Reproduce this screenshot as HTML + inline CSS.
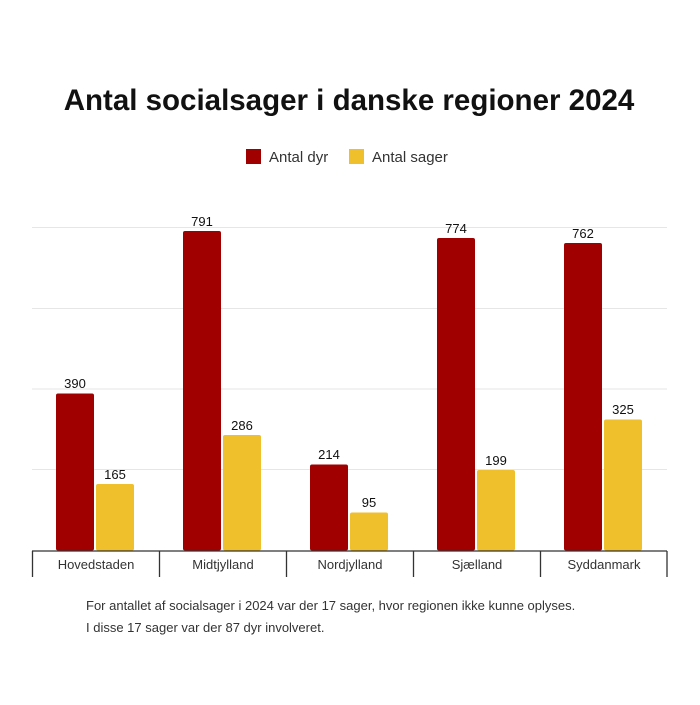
<!DOCTYPE html>
<html><head><style>
body{margin:0;background:#fff;}
svg text{font-family:"Liberation Sans",sans-serif;}
</style></head><body>
<svg width="700" height="700" xmlns="http://www.w3.org/2000/svg">
<rect width="700" height="700" fill="#fff"/>
<text x="349" y="110" text-anchor="middle" font-size="29.5" font-weight="bold" fill="#111">Antal socialsager i danske regioner 2024</text>
<rect x="246" y="149" width="15" height="15" fill="#a10000"/>
<text x="269" y="162" font-size="15" fill="#333">Antal dyr</text>
<rect x="349" y="149" width="15" height="15" fill="#f0bf2c"/>
<text x="372" y="162" font-size="15" fill="#333">Antal sager</text>
<g stroke="#e6e6e6" stroke-width="1">
<line x1="32" x2="667" y1="469.5" y2="469.5"/>
<line x1="32" x2="667" y1="389" y2="389"/>
<line x1="32" x2="667" y1="308.5" y2="308.5"/>
<line x1="32" x2="667" y1="227.5" y2="227.5"/>
</g>
<g font-size="13" fill="#111" text-anchor="middle">
<rect x="56" y="393.5" width="38" height="157" fill="#a10000" rx="2"/><text x="75" y="388">390</text>
<rect x="96" y="484" width="38" height="66.5" fill="#f0bf2c" rx="2"/><text x="115" y="479">165</text>
<rect x="183" y="231" width="38" height="319.5" fill="#a10000" rx="2"/><text x="202" y="226">791</text>
<rect x="223" y="435" width="38" height="115.5" fill="#f0bf2c" rx="2"/><text x="242" y="430">286</text>
<rect x="310" y="464.5" width="38" height="86" fill="#a10000" rx="2"/><text x="329" y="459">214</text>
<rect x="350" y="512.5" width="38" height="38" fill="#f0bf2c" rx="2"/><text x="369" y="507">95</text>
<rect x="437" y="238" width="38" height="312.5" fill="#a10000" rx="2"/><text x="456" y="233">774</text>
<rect x="477" y="470" width="38" height="80.5" fill="#f0bf2c" rx="2"/><text x="496" y="465">199</text>
<rect x="564" y="243" width="38" height="307.5" fill="#a10000" rx="2"/><text x="583" y="238">762</text>
<rect x="604" y="419.5" width="38" height="131" fill="#f0bf2c" rx="2"/><text x="623" y="414">325</text>
</g>
<g stroke="#333" stroke-width="1.3">
<line x1="32" x2="667" y1="551" y2="551"/>
<line x1="32.5" x2="32.5" y1="551" y2="577"/>
<line x1="159.5" x2="159.5" y1="551" y2="577"/>
<line x1="286.5" x2="286.5" y1="551" y2="577"/>
<line x1="413.5" x2="413.5" y1="551" y2="577"/>
<line x1="540.5" x2="540.5" y1="551" y2="577"/>
<line x1="667" x2="667" y1="551" y2="577"/>
</g>
<g font-size="13" fill="#333" text-anchor="middle">
<text x="96" y="569">Hovedstaden</text>
<text x="223" y="569">Midtjylland</text>
<text x="350" y="569">Nordjylland</text>
<text x="477" y="569">Sjælland</text>
<text x="604" y="569">Syddanmark</text>
</g>
<text x="86" y="610" font-size="13" fill="#333">For antallet af socialsager i 2024 var der 17 sager, hvor regionen ikke kunne oplyses.</text>
<text x="86" y="632" font-size="13" fill="#333">I disse 17 sager var der 87 dyr involveret.</text>
</svg>
</body></html>
